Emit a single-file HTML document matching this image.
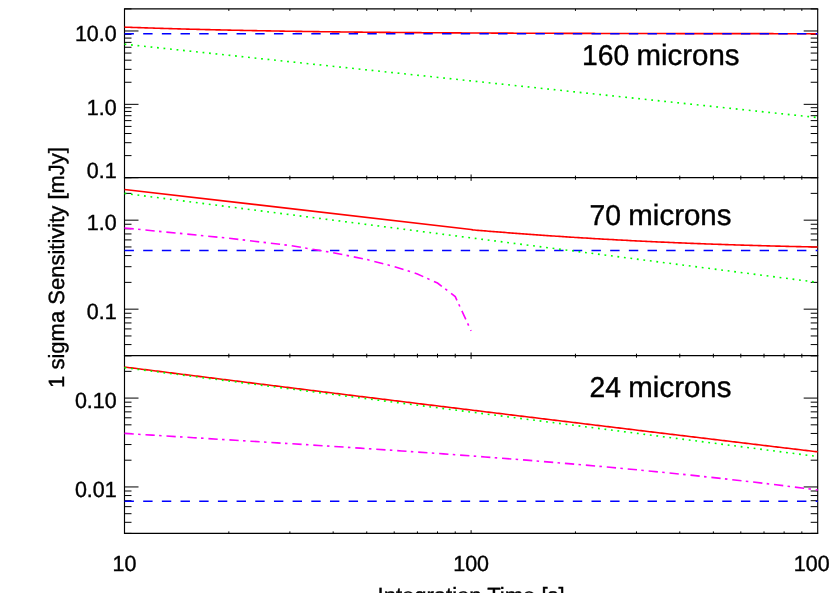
<!DOCTYPE html>
<html><head><meta charset="utf-8"><title>Sensitivity</title>
<style>html,body{margin:0;padding:0;background:#fff;overflow:hidden}svg{display:block;will-change:transform}</style>
</head><body>
<svg width="830" height="593" viewBox="0 0 830 593">
<rect width="830" height="593" fill="#fff"/>
<line x1="124.50" y1="8.90" x2="124.50" y2="12.10" stroke="#000" stroke-width="1.00"/>
<line x1="228.84" y1="8.90" x2="228.84" y2="10.90" stroke="#000" stroke-width="1.00"/>
<line x1="289.87" y1="8.90" x2="289.87" y2="10.90" stroke="#000" stroke-width="1.00"/>
<line x1="333.17" y1="8.90" x2="333.17" y2="10.90" stroke="#000" stroke-width="1.00"/>
<line x1="366.76" y1="8.90" x2="366.76" y2="10.90" stroke="#000" stroke-width="1.00"/>
<line x1="394.21" y1="8.90" x2="394.21" y2="10.90" stroke="#000" stroke-width="1.00"/>
<line x1="417.41" y1="8.90" x2="417.41" y2="10.90" stroke="#000" stroke-width="1.00"/>
<line x1="437.51" y1="8.90" x2="437.51" y2="10.90" stroke="#000" stroke-width="1.00"/>
<line x1="455.24" y1="8.90" x2="455.24" y2="10.90" stroke="#000" stroke-width="1.00"/>
<line x1="471.10" y1="8.90" x2="471.10" y2="12.10" stroke="#000" stroke-width="1.00"/>
<line x1="575.44" y1="8.90" x2="575.44" y2="10.90" stroke="#000" stroke-width="1.00"/>
<line x1="636.47" y1="8.90" x2="636.47" y2="10.90" stroke="#000" stroke-width="1.00"/>
<line x1="679.77" y1="8.90" x2="679.77" y2="10.90" stroke="#000" stroke-width="1.00"/>
<line x1="713.36" y1="8.90" x2="713.36" y2="10.90" stroke="#000" stroke-width="1.00"/>
<line x1="740.81" y1="8.90" x2="740.81" y2="10.90" stroke="#000" stroke-width="1.00"/>
<line x1="764.01" y1="8.90" x2="764.01" y2="10.90" stroke="#000" stroke-width="1.00"/>
<line x1="784.11" y1="8.90" x2="784.11" y2="10.90" stroke="#000" stroke-width="1.00"/>
<line x1="801.84" y1="8.90" x2="801.84" y2="10.90" stroke="#000" stroke-width="1.00"/>
<line x1="124.50" y1="174.50" x2="124.50" y2="180.90" stroke="#000" stroke-width="1.00"/>
<line x1="228.84" y1="175.70" x2="228.84" y2="179.70" stroke="#000" stroke-width="1.00"/>
<line x1="289.87" y1="175.70" x2="289.87" y2="179.70" stroke="#000" stroke-width="1.00"/>
<line x1="333.17" y1="175.70" x2="333.17" y2="179.70" stroke="#000" stroke-width="1.00"/>
<line x1="366.76" y1="175.70" x2="366.76" y2="179.70" stroke="#000" stroke-width="1.00"/>
<line x1="394.21" y1="175.70" x2="394.21" y2="179.70" stroke="#000" stroke-width="1.00"/>
<line x1="417.41" y1="175.70" x2="417.41" y2="179.70" stroke="#000" stroke-width="1.00"/>
<line x1="437.51" y1="175.70" x2="437.51" y2="179.70" stroke="#000" stroke-width="1.00"/>
<line x1="455.24" y1="175.70" x2="455.24" y2="179.70" stroke="#000" stroke-width="1.00"/>
<line x1="471.10" y1="174.50" x2="471.10" y2="180.90" stroke="#000" stroke-width="1.00"/>
<line x1="575.44" y1="175.70" x2="575.44" y2="179.70" stroke="#000" stroke-width="1.00"/>
<line x1="636.47" y1="175.70" x2="636.47" y2="179.70" stroke="#000" stroke-width="1.00"/>
<line x1="679.77" y1="175.70" x2="679.77" y2="179.70" stroke="#000" stroke-width="1.00"/>
<line x1="713.36" y1="175.70" x2="713.36" y2="179.70" stroke="#000" stroke-width="1.00"/>
<line x1="740.81" y1="175.70" x2="740.81" y2="179.70" stroke="#000" stroke-width="1.00"/>
<line x1="764.01" y1="175.70" x2="764.01" y2="179.70" stroke="#000" stroke-width="1.00"/>
<line x1="784.11" y1="175.70" x2="784.11" y2="179.70" stroke="#000" stroke-width="1.00"/>
<line x1="801.84" y1="175.70" x2="801.84" y2="179.70" stroke="#000" stroke-width="1.00"/>
<line x1="124.50" y1="352.50" x2="124.50" y2="358.90" stroke="#000" stroke-width="1.00"/>
<line x1="228.84" y1="353.70" x2="228.84" y2="357.70" stroke="#000" stroke-width="1.00"/>
<line x1="289.87" y1="353.70" x2="289.87" y2="357.70" stroke="#000" stroke-width="1.00"/>
<line x1="333.17" y1="353.70" x2="333.17" y2="357.70" stroke="#000" stroke-width="1.00"/>
<line x1="366.76" y1="353.70" x2="366.76" y2="357.70" stroke="#000" stroke-width="1.00"/>
<line x1="394.21" y1="353.70" x2="394.21" y2="357.70" stroke="#000" stroke-width="1.00"/>
<line x1="417.41" y1="353.70" x2="417.41" y2="357.70" stroke="#000" stroke-width="1.00"/>
<line x1="437.51" y1="353.70" x2="437.51" y2="357.70" stroke="#000" stroke-width="1.00"/>
<line x1="455.24" y1="353.70" x2="455.24" y2="357.70" stroke="#000" stroke-width="1.00"/>
<line x1="471.10" y1="352.50" x2="471.10" y2="358.90" stroke="#000" stroke-width="1.00"/>
<line x1="575.44" y1="353.70" x2="575.44" y2="357.70" stroke="#000" stroke-width="1.00"/>
<line x1="636.47" y1="353.70" x2="636.47" y2="357.70" stroke="#000" stroke-width="1.00"/>
<line x1="679.77" y1="353.70" x2="679.77" y2="357.70" stroke="#000" stroke-width="1.00"/>
<line x1="713.36" y1="353.70" x2="713.36" y2="357.70" stroke="#000" stroke-width="1.00"/>
<line x1="740.81" y1="353.70" x2="740.81" y2="357.70" stroke="#000" stroke-width="1.00"/>
<line x1="764.01" y1="353.70" x2="764.01" y2="357.70" stroke="#000" stroke-width="1.00"/>
<line x1="784.11" y1="353.70" x2="784.11" y2="357.70" stroke="#000" stroke-width="1.00"/>
<line x1="801.84" y1="353.70" x2="801.84" y2="357.70" stroke="#000" stroke-width="1.00"/>
<line x1="124.50" y1="530.20" x2="124.50" y2="533.40" stroke="#000" stroke-width="1.00"/>
<line x1="228.84" y1="531.40" x2="228.84" y2="533.40" stroke="#000" stroke-width="1.00"/>
<line x1="289.87" y1="531.40" x2="289.87" y2="533.40" stroke="#000" stroke-width="1.00"/>
<line x1="333.17" y1="531.40" x2="333.17" y2="533.40" stroke="#000" stroke-width="1.00"/>
<line x1="366.76" y1="531.40" x2="366.76" y2="533.40" stroke="#000" stroke-width="1.00"/>
<line x1="394.21" y1="531.40" x2="394.21" y2="533.40" stroke="#000" stroke-width="1.00"/>
<line x1="417.41" y1="531.40" x2="417.41" y2="533.40" stroke="#000" stroke-width="1.00"/>
<line x1="437.51" y1="531.40" x2="437.51" y2="533.40" stroke="#000" stroke-width="1.00"/>
<line x1="455.24" y1="531.40" x2="455.24" y2="533.40" stroke="#000" stroke-width="1.00"/>
<line x1="471.10" y1="530.20" x2="471.10" y2="533.40" stroke="#000" stroke-width="1.00"/>
<line x1="575.44" y1="531.40" x2="575.44" y2="533.40" stroke="#000" stroke-width="1.00"/>
<line x1="636.47" y1="531.40" x2="636.47" y2="533.40" stroke="#000" stroke-width="1.00"/>
<line x1="679.77" y1="531.40" x2="679.77" y2="533.40" stroke="#000" stroke-width="1.00"/>
<line x1="713.36" y1="531.40" x2="713.36" y2="533.40" stroke="#000" stroke-width="1.00"/>
<line x1="740.81" y1="531.40" x2="740.81" y2="533.40" stroke="#000" stroke-width="1.00"/>
<line x1="764.01" y1="531.40" x2="764.01" y2="533.40" stroke="#000" stroke-width="1.00"/>
<line x1="784.11" y1="531.40" x2="784.11" y2="533.40" stroke="#000" stroke-width="1.00"/>
<line x1="801.84" y1="531.40" x2="801.84" y2="533.40" stroke="#000" stroke-width="1.00"/>
<line x1="124.50" y1="177.70" x2="138.50" y2="177.70" stroke="#000" stroke-width="1.00"/>
<line x1="803.70" y1="177.70" x2="817.70" y2="177.70" stroke="#000" stroke-width="1.00"/>
<line x1="124.50" y1="155.62" x2="131.50" y2="155.62" stroke="#000" stroke-width="1.00"/>
<line x1="810.70" y1="155.62" x2="817.70" y2="155.62" stroke="#000" stroke-width="1.00"/>
<line x1="124.50" y1="142.70" x2="131.50" y2="142.70" stroke="#000" stroke-width="1.00"/>
<line x1="810.70" y1="142.70" x2="817.70" y2="142.70" stroke="#000" stroke-width="1.00"/>
<line x1="124.50" y1="133.53" x2="131.50" y2="133.53" stroke="#000" stroke-width="1.00"/>
<line x1="810.70" y1="133.53" x2="817.70" y2="133.53" stroke="#000" stroke-width="1.00"/>
<line x1="124.50" y1="126.42" x2="131.50" y2="126.42" stroke="#000" stroke-width="1.00"/>
<line x1="810.70" y1="126.42" x2="817.70" y2="126.42" stroke="#000" stroke-width="1.00"/>
<line x1="124.50" y1="120.62" x2="131.50" y2="120.62" stroke="#000" stroke-width="1.00"/>
<line x1="810.70" y1="120.62" x2="817.70" y2="120.62" stroke="#000" stroke-width="1.00"/>
<line x1="124.50" y1="115.70" x2="131.50" y2="115.70" stroke="#000" stroke-width="1.00"/>
<line x1="810.70" y1="115.70" x2="817.70" y2="115.70" stroke="#000" stroke-width="1.00"/>
<line x1="124.50" y1="111.45" x2="131.50" y2="111.45" stroke="#000" stroke-width="1.00"/>
<line x1="810.70" y1="111.45" x2="817.70" y2="111.45" stroke="#000" stroke-width="1.00"/>
<line x1="124.50" y1="107.70" x2="131.50" y2="107.70" stroke="#000" stroke-width="1.00"/>
<line x1="810.70" y1="107.70" x2="817.70" y2="107.70" stroke="#000" stroke-width="1.00"/>
<line x1="124.50" y1="104.34" x2="138.50" y2="104.34" stroke="#000" stroke-width="1.00"/>
<line x1="803.70" y1="104.34" x2="817.70" y2="104.34" stroke="#000" stroke-width="1.00"/>
<line x1="124.50" y1="82.26" x2="131.50" y2="82.26" stroke="#000" stroke-width="1.00"/>
<line x1="810.70" y1="82.26" x2="817.70" y2="82.26" stroke="#000" stroke-width="1.00"/>
<line x1="124.50" y1="69.34" x2="131.50" y2="69.34" stroke="#000" stroke-width="1.00"/>
<line x1="810.70" y1="69.34" x2="817.70" y2="69.34" stroke="#000" stroke-width="1.00"/>
<line x1="124.50" y1="60.18" x2="131.50" y2="60.18" stroke="#000" stroke-width="1.00"/>
<line x1="810.70" y1="60.18" x2="817.70" y2="60.18" stroke="#000" stroke-width="1.00"/>
<line x1="124.50" y1="53.07" x2="131.50" y2="53.07" stroke="#000" stroke-width="1.00"/>
<line x1="810.70" y1="53.07" x2="817.70" y2="53.07" stroke="#000" stroke-width="1.00"/>
<line x1="124.50" y1="47.26" x2="131.50" y2="47.26" stroke="#000" stroke-width="1.00"/>
<line x1="810.70" y1="47.26" x2="817.70" y2="47.26" stroke="#000" stroke-width="1.00"/>
<line x1="124.50" y1="42.35" x2="131.50" y2="42.35" stroke="#000" stroke-width="1.00"/>
<line x1="810.70" y1="42.35" x2="817.70" y2="42.35" stroke="#000" stroke-width="1.00"/>
<line x1="124.50" y1="38.09" x2="131.50" y2="38.09" stroke="#000" stroke-width="1.00"/>
<line x1="810.70" y1="38.09" x2="817.70" y2="38.09" stroke="#000" stroke-width="1.00"/>
<line x1="124.50" y1="34.34" x2="131.50" y2="34.34" stroke="#000" stroke-width="1.00"/>
<line x1="810.70" y1="34.34" x2="817.70" y2="34.34" stroke="#000" stroke-width="1.00"/>
<line x1="124.50" y1="30.98" x2="138.50" y2="30.98" stroke="#000" stroke-width="1.00"/>
<line x1="803.70" y1="30.98" x2="817.70" y2="30.98" stroke="#000" stroke-width="1.00"/>
<line x1="124.50" y1="8.90" x2="131.50" y2="8.90" stroke="#000" stroke-width="1.00"/>
<line x1="810.70" y1="8.90" x2="817.70" y2="8.90" stroke="#000" stroke-width="1.00"/>
<line x1="124.50" y1="355.70" x2="131.50" y2="355.70" stroke="#000" stroke-width="1.00"/>
<line x1="810.70" y1="355.70" x2="817.70" y2="355.70" stroke="#000" stroke-width="1.00"/>
<line x1="124.50" y1="344.58" x2="131.50" y2="344.58" stroke="#000" stroke-width="1.00"/>
<line x1="810.70" y1="344.58" x2="817.70" y2="344.58" stroke="#000" stroke-width="1.00"/>
<line x1="124.50" y1="335.96" x2="131.50" y2="335.96" stroke="#000" stroke-width="1.00"/>
<line x1="810.70" y1="335.96" x2="817.70" y2="335.96" stroke="#000" stroke-width="1.00"/>
<line x1="124.50" y1="328.91" x2="131.50" y2="328.91" stroke="#000" stroke-width="1.00"/>
<line x1="810.70" y1="328.91" x2="817.70" y2="328.91" stroke="#000" stroke-width="1.00"/>
<line x1="124.50" y1="322.95" x2="131.50" y2="322.95" stroke="#000" stroke-width="1.00"/>
<line x1="810.70" y1="322.95" x2="817.70" y2="322.95" stroke="#000" stroke-width="1.00"/>
<line x1="124.50" y1="317.79" x2="131.50" y2="317.79" stroke="#000" stroke-width="1.00"/>
<line x1="810.70" y1="317.79" x2="817.70" y2="317.79" stroke="#000" stroke-width="1.00"/>
<line x1="124.50" y1="313.24" x2="131.50" y2="313.24" stroke="#000" stroke-width="1.00"/>
<line x1="810.70" y1="313.24" x2="817.70" y2="313.24" stroke="#000" stroke-width="1.00"/>
<line x1="124.50" y1="309.16" x2="138.50" y2="309.16" stroke="#000" stroke-width="1.00"/>
<line x1="803.70" y1="309.16" x2="817.70" y2="309.16" stroke="#000" stroke-width="1.00"/>
<line x1="124.50" y1="282.37" x2="131.50" y2="282.37" stroke="#000" stroke-width="1.00"/>
<line x1="810.70" y1="282.37" x2="817.70" y2="282.37" stroke="#000" stroke-width="1.00"/>
<line x1="124.50" y1="266.70" x2="131.50" y2="266.70" stroke="#000" stroke-width="1.00"/>
<line x1="810.70" y1="266.70" x2="817.70" y2="266.70" stroke="#000" stroke-width="1.00"/>
<line x1="124.50" y1="255.58" x2="131.50" y2="255.58" stroke="#000" stroke-width="1.00"/>
<line x1="810.70" y1="255.58" x2="817.70" y2="255.58" stroke="#000" stroke-width="1.00"/>
<line x1="124.50" y1="246.96" x2="131.50" y2="246.96" stroke="#000" stroke-width="1.00"/>
<line x1="810.70" y1="246.96" x2="817.70" y2="246.96" stroke="#000" stroke-width="1.00"/>
<line x1="124.50" y1="239.91" x2="131.50" y2="239.91" stroke="#000" stroke-width="1.00"/>
<line x1="810.70" y1="239.91" x2="817.70" y2="239.91" stroke="#000" stroke-width="1.00"/>
<line x1="124.50" y1="233.95" x2="131.50" y2="233.95" stroke="#000" stroke-width="1.00"/>
<line x1="810.70" y1="233.95" x2="817.70" y2="233.95" stroke="#000" stroke-width="1.00"/>
<line x1="124.50" y1="228.79" x2="131.50" y2="228.79" stroke="#000" stroke-width="1.00"/>
<line x1="810.70" y1="228.79" x2="817.70" y2="228.79" stroke="#000" stroke-width="1.00"/>
<line x1="124.50" y1="224.24" x2="131.50" y2="224.24" stroke="#000" stroke-width="1.00"/>
<line x1="810.70" y1="224.24" x2="817.70" y2="224.24" stroke="#000" stroke-width="1.00"/>
<line x1="124.50" y1="220.16" x2="138.50" y2="220.16" stroke="#000" stroke-width="1.00"/>
<line x1="803.70" y1="220.16" x2="817.70" y2="220.16" stroke="#000" stroke-width="1.00"/>
<line x1="124.50" y1="193.37" x2="131.50" y2="193.37" stroke="#000" stroke-width="1.00"/>
<line x1="810.70" y1="193.37" x2="817.70" y2="193.37" stroke="#000" stroke-width="1.00"/>
<line x1="124.50" y1="177.70" x2="131.50" y2="177.70" stroke="#000" stroke-width="1.00"/>
<line x1="810.70" y1="177.70" x2="817.70" y2="177.70" stroke="#000" stroke-width="1.00"/>
<line x1="124.50" y1="533.40" x2="131.50" y2="533.40" stroke="#000" stroke-width="1.00"/>
<line x1="810.70" y1="533.40" x2="817.70" y2="533.40" stroke="#000" stroke-width="1.00"/>
<line x1="124.50" y1="522.30" x2="131.50" y2="522.30" stroke="#000" stroke-width="1.00"/>
<line x1="810.70" y1="522.30" x2="817.70" y2="522.30" stroke="#000" stroke-width="1.00"/>
<line x1="124.50" y1="513.69" x2="131.50" y2="513.69" stroke="#000" stroke-width="1.00"/>
<line x1="810.70" y1="513.69" x2="817.70" y2="513.69" stroke="#000" stroke-width="1.00"/>
<line x1="124.50" y1="506.65" x2="131.50" y2="506.65" stroke="#000" stroke-width="1.00"/>
<line x1="810.70" y1="506.65" x2="817.70" y2="506.65" stroke="#000" stroke-width="1.00"/>
<line x1="124.50" y1="500.71" x2="131.50" y2="500.71" stroke="#000" stroke-width="1.00"/>
<line x1="810.70" y1="500.71" x2="817.70" y2="500.71" stroke="#000" stroke-width="1.00"/>
<line x1="124.50" y1="495.55" x2="131.50" y2="495.55" stroke="#000" stroke-width="1.00"/>
<line x1="810.70" y1="495.55" x2="817.70" y2="495.55" stroke="#000" stroke-width="1.00"/>
<line x1="124.50" y1="491.01" x2="131.50" y2="491.01" stroke="#000" stroke-width="1.00"/>
<line x1="810.70" y1="491.01" x2="817.70" y2="491.01" stroke="#000" stroke-width="1.00"/>
<line x1="124.50" y1="486.94" x2="138.50" y2="486.94" stroke="#000" stroke-width="1.00"/>
<line x1="803.70" y1="486.94" x2="817.70" y2="486.94" stroke="#000" stroke-width="1.00"/>
<line x1="124.50" y1="460.20" x2="131.50" y2="460.20" stroke="#000" stroke-width="1.00"/>
<line x1="810.70" y1="460.20" x2="817.70" y2="460.20" stroke="#000" stroke-width="1.00"/>
<line x1="124.50" y1="444.55" x2="131.50" y2="444.55" stroke="#000" stroke-width="1.00"/>
<line x1="810.70" y1="444.55" x2="817.70" y2="444.55" stroke="#000" stroke-width="1.00"/>
<line x1="124.50" y1="433.45" x2="131.50" y2="433.45" stroke="#000" stroke-width="1.00"/>
<line x1="810.70" y1="433.45" x2="817.70" y2="433.45" stroke="#000" stroke-width="1.00"/>
<line x1="124.50" y1="424.84" x2="131.50" y2="424.84" stroke="#000" stroke-width="1.00"/>
<line x1="810.70" y1="424.84" x2="817.70" y2="424.84" stroke="#000" stroke-width="1.00"/>
<line x1="124.50" y1="417.80" x2="131.50" y2="417.80" stroke="#000" stroke-width="1.00"/>
<line x1="810.70" y1="417.80" x2="817.70" y2="417.80" stroke="#000" stroke-width="1.00"/>
<line x1="124.50" y1="411.86" x2="131.50" y2="411.86" stroke="#000" stroke-width="1.00"/>
<line x1="810.70" y1="411.86" x2="817.70" y2="411.86" stroke="#000" stroke-width="1.00"/>
<line x1="124.50" y1="406.70" x2="131.50" y2="406.70" stroke="#000" stroke-width="1.00"/>
<line x1="810.70" y1="406.70" x2="817.70" y2="406.70" stroke="#000" stroke-width="1.00"/>
<line x1="124.50" y1="402.16" x2="131.50" y2="402.16" stroke="#000" stroke-width="1.00"/>
<line x1="810.70" y1="402.16" x2="817.70" y2="402.16" stroke="#000" stroke-width="1.00"/>
<line x1="124.50" y1="398.09" x2="138.50" y2="398.09" stroke="#000" stroke-width="1.00"/>
<line x1="803.70" y1="398.09" x2="817.70" y2="398.09" stroke="#000" stroke-width="1.00"/>
<line x1="124.50" y1="371.35" x2="131.50" y2="371.35" stroke="#000" stroke-width="1.00"/>
<line x1="810.70" y1="371.35" x2="817.70" y2="371.35" stroke="#000" stroke-width="1.00"/>
<line x1="124.50" y1="355.70" x2="131.50" y2="355.70" stroke="#000" stroke-width="1.00"/>
<line x1="810.70" y1="355.70" x2="817.70" y2="355.70" stroke="#000" stroke-width="1.00"/>
<line x1="123.95" y1="8.90" x2="818.25" y2="8.90" stroke="#000" stroke-width="1.25"/>
<line x1="123.95" y1="177.70" x2="818.25" y2="177.70" stroke="#000" stroke-width="1.25"/>
<line x1="123.95" y1="355.70" x2="818.25" y2="355.70" stroke="#000" stroke-width="1.25"/>
<line x1="123.95" y1="533.40" x2="818.25" y2="533.40" stroke="#000" stroke-width="1.25"/>
<line x1="124.50" y1="8.90" x2="124.50" y2="533.40" stroke="#000" stroke-width="1.15"/>
<line x1="817.70" y1="8.90" x2="817.70" y2="533.40" stroke="#000" stroke-width="1.15"/>
<path d="M124.50 27.12 L126.23 27.18 L127.97 27.25 L129.70 27.31 L131.43 27.37 L133.16 27.43 L134.90 27.49 L136.63 27.55 L138.36 27.61 L140.10 27.67 L141.83 27.73 L143.56 27.78 L145.30 27.84 L147.03 27.90 L148.76 27.95 L150.49 28.01 L152.23 28.07 L153.96 28.12 L155.69 28.18 L157.43 28.23 L159.16 28.28 L160.89 28.34 L162.63 28.39 L164.36 28.44 L166.09 28.49 L167.82 28.55 L169.56 28.60 L171.29 28.65 L173.02 28.70 L174.76 28.75 L176.49 28.80 L178.22 28.85 L179.96 28.90 L181.69 28.94 L183.42 28.99 L185.16 29.04 L186.89 29.09 L188.62 29.13 L190.35 29.18 L192.09 29.22 L193.82 29.27 L195.55 29.32 L197.29 29.36 L199.02 29.40 L200.75 29.45 L202.49 29.49 L204.22 29.53 L205.95 29.58 L207.68 29.62 L209.42 29.66 L211.15 29.70 L212.88 29.74 L214.62 29.79 L216.35 29.83 L218.08 29.87 L219.81 29.91 L221.55 29.95 L223.28 29.98 L225.01 30.02 L226.75 30.06 L228.48 30.10 L230.21 30.14 L231.95 30.18 L233.68 30.21 L235.41 30.25 L237.14 30.29 L238.88 30.32 L240.61 30.36 L242.34 30.39 L244.08 30.43 L245.81 30.46 L247.54 30.50 L249.28 30.53 L251.01 30.56 L252.74 30.60 L254.48 30.63 L256.21 30.66 L257.94 30.70 L259.67 30.73 L261.41 30.76 L263.14 30.79 L264.87 30.82 L266.61 30.85 L268.34 30.88 L270.07 30.91 L271.81 30.94 L273.54 30.97 L275.27 31.00 L277.00 31.03 L278.74 31.06 L280.47 31.09 L282.20 31.12 L283.94 31.15 L285.67 31.18 L287.40 31.20 L289.14 31.23 L290.87 31.26 L292.60 31.28 L294.33 31.31 L296.07 31.34 L297.80 31.36 L299.53 31.39 L301.27 31.41 L303.00 31.44 L304.73 31.46 L306.46 31.49 L308.20 31.51 L309.93 31.54 L311.66 31.56 L313.40 31.59 L315.13 31.61 L316.86 31.63 L318.60 31.66 L320.33 31.68 L322.06 31.70 L323.79 31.72 L325.53 31.75 L327.26 31.77 L328.99 31.79 L330.73 31.81 L332.46 31.83 L334.19 31.85 L335.93 31.87 L337.66 31.89 L339.39 31.91 L341.12 31.94 L342.86 31.96 L344.59 31.97 L346.32 31.99 L348.06 32.01 L349.79 32.03 L351.52 32.05 L353.26 32.07 L354.99 32.09 L356.72 32.11 L358.46 32.13 L360.19 32.14 L361.92 32.16 L363.65 32.18 L365.39 32.20 L367.12 32.21 L368.85 32.23 L370.59 32.25 L372.32 32.27 L374.05 32.28 L375.79 32.30 L377.52 32.31 L379.25 32.33 L380.98 32.35 L382.72 32.36 L384.45 32.38 L386.18 32.39 L387.92 32.41 L389.65 32.42 L391.38 32.44 L393.12 32.45 L394.85 32.47 L396.58 32.48 L398.31 32.50 L400.05 32.51 L401.78 32.53 L403.51 32.54 L405.25 32.55 L406.98 32.57 L408.71 32.58 L410.44 32.59 L412.18 32.61 L413.91 32.62 L415.64 32.63 L417.38 32.64 L419.11 32.66 L420.84 32.67 L422.58 32.68 L424.31 32.69 L426.04 32.71 L427.78 32.72 L429.51 32.73 L431.24 32.74 L432.97 32.75 L434.71 32.77 L436.44 32.78 L438.17 32.79 L439.91 32.80 L441.64 32.81 L443.37 32.82 L445.11 32.83 L446.84 32.84 L448.57 32.85 L450.30 32.86 L452.04 32.87 L453.77 32.88 L455.50 32.89 L457.24 32.90 L458.97 32.91 L460.70 32.92 L462.44 32.93 L464.17 32.94 L465.90 32.95 L467.63 32.96 L469.37 32.97 L471.10 32.98 L472.83 32.99 L474.57 33.00 L476.30 33.01 L478.03 33.01 L479.76 33.02 L481.50 33.03 L483.23 33.04 L484.96 33.05 L486.70 33.06 L488.43 33.06 L490.16 33.07 L491.90 33.08 L493.63 33.09 L495.36 33.10 L497.10 33.10 L498.83 33.11 L500.56 33.12 L502.29 33.13 L504.03 33.13 L505.76 33.14 L507.49 33.15 L509.23 33.16 L510.96 33.16 L512.69 33.17 L514.42 33.18 L516.16 33.18 L517.89 33.19 L519.62 33.20 L521.36 33.20 L523.09 33.21 L524.82 33.22 L526.56 33.22 L528.29 33.23 L530.02 33.24 L531.75 33.24 L533.49 33.25 L535.22 33.25 L536.95 33.26 L538.69 33.27 L540.42 33.27 L542.15 33.28 L543.89 33.28 L545.62 33.29 L547.35 33.29 L549.09 33.30 L550.82 33.31 L552.55 33.31 L554.28 33.32 L556.02 33.32 L557.75 33.33 L559.48 33.33 L561.22 33.34 L562.95 33.34 L564.68 33.35 L566.41 33.35 L568.15 33.36 L569.88 33.36 L571.61 33.37 L573.35 33.37 L575.08 33.38 L576.81 33.38 L578.55 33.39 L580.28 33.39 L582.01 33.39 L583.75 33.40 L585.48 33.40 L587.21 33.41 L588.94 33.41 L590.68 33.42 L592.41 33.42 L594.14 33.42 L595.88 33.43 L597.61 33.43 L599.34 33.44 L601.08 33.44 L602.81 33.44 L604.54 33.45 L606.27 33.45 L608.01 33.46 L609.74 33.46 L611.47 33.46 L613.21 33.47 L614.94 33.47 L616.67 33.47 L618.40 33.48 L620.14 33.48 L621.87 33.48 L623.60 33.49 L625.34 33.49 L627.07 33.49 L628.80 33.50 L630.54 33.50 L632.27 33.50 L634.00 33.51 L635.74 33.51 L637.47 33.51 L639.20 33.52 L640.93 33.52 L642.67 33.52 L644.40 33.53 L646.13 33.53 L647.87 33.53 L649.60 33.53 L651.33 33.54 L653.07 33.54 L654.80 33.54 L656.53 33.55 L658.26 33.55 L660.00 33.55 L661.73 33.55 L663.46 33.56 L665.20 33.56 L666.93 33.56 L668.66 33.56 L670.40 33.57 L672.13 33.57 L673.86 33.57 L675.59 33.57 L677.33 33.58 L679.06 33.58 L680.79 33.58 L682.53 33.58 L684.26 33.59 L685.99 33.59 L687.73 33.59 L689.46 33.59 L691.19 33.59 L692.92 33.60 L694.66 33.60 L696.39 33.60 L698.12 33.60 L699.86 33.61 L701.59 33.61 L703.32 33.61 L705.05 33.61 L706.79 33.61 L708.52 33.62 L710.25 33.62 L711.99 33.62 L713.72 33.62 L715.45 33.62 L717.19 33.62 L718.92 33.63 L720.65 33.63 L722.39 33.63 L724.12 33.63 L725.85 33.63 L727.58 33.64 L729.32 33.64 L731.05 33.64 L732.78 33.64 L734.52 33.64 L736.25 33.64 L737.98 33.65 L739.72 33.65 L741.45 33.65 L743.18 33.65 L744.91 33.65 L746.65 33.65 L748.38 33.65 L750.11 33.66 L751.85 33.66 L753.58 33.66 L755.31 33.66 L757.05 33.66 L758.78 33.66 L760.51 33.66 L762.24 33.67 L763.98 33.67 L765.71 33.67 L767.44 33.67 L769.18 33.67 L770.91 33.67 L772.64 33.67 L774.38 33.68 L776.11 33.68 L777.84 33.68 L779.57 33.68 L781.31 33.68 L783.04 33.68 L784.77 33.68 L786.51 33.68 L788.24 33.69 L789.97 33.69 L791.70 33.69 L793.44 33.69 L795.17 33.69 L796.90 33.69 L798.64 33.69 L800.37 33.69 L802.10 33.69 L803.84 33.69 L805.57 33.70 L807.30 33.70 L809.04 33.70 L810.77 33.70 L812.50 33.70 L814.23 33.70 L815.97 33.70 L817.70 33.70" fill="none" stroke="#ff0000" stroke-width="1.60"/>
<path d="M124.50 33.79 L817.70 33.79" fill="none" stroke="#0000ff" stroke-width="1.60" stroke-dasharray="9.4 9.28"/>
<path d="M124.50 44.22 L817.70 117.58" fill="none" stroke="#00ff00" stroke-width="1.60" stroke-dasharray="1.8 4.739"/>
<path d="M124.50 189.45 L471.10 229.50 L472.83 229.90 L474.57 230.04 L476.30 230.19 L478.03 230.33 L479.76 230.48 L481.50 230.62 L483.23 230.76 L484.96 230.90 L486.70 231.05 L488.43 231.19 L490.16 231.33 L491.90 231.47 L493.63 231.60 L495.36 231.74 L497.10 231.88 L498.83 232.02 L500.56 232.15 L502.29 232.29 L504.03 232.42 L505.76 232.56 L507.49 232.69 L509.23 232.83 L510.96 232.96 L512.69 233.09 L514.42 233.22 L516.16 233.35 L517.89 233.48 L519.62 233.61 L521.36 233.74 L523.09 233.87 L524.82 234.00 L526.56 234.13 L528.29 234.25 L530.02 234.38 L531.75 234.50 L533.49 234.63 L535.22 234.75 L536.95 234.87 L538.69 235.00 L540.42 235.12 L542.15 235.24 L543.89 235.36 L545.62 235.48 L547.35 235.60 L549.09 235.72 L550.82 235.84 L552.55 235.96 L554.28 236.07 L556.02 236.19 L557.75 236.31 L559.48 236.42 L561.22 236.53 L562.95 236.65 L564.68 236.76 L566.41 236.87 L568.15 236.99 L569.88 237.10 L571.61 237.21 L573.35 237.32 L575.08 237.43 L576.81 237.54 L578.55 237.64 L580.28 237.75 L582.01 237.86 L583.75 237.96 L585.48 238.07 L587.21 238.17 L588.94 238.28 L590.68 238.38 L592.41 238.48 L594.14 238.59 L595.88 238.69 L597.61 238.79 L599.34 238.89 L601.08 238.99 L602.81 239.09 L604.54 239.19 L606.27 239.28 L608.01 239.38 L609.74 239.48 L611.47 239.57 L613.21 239.67 L614.94 239.76 L616.67 239.86 L618.40 239.95 L620.14 240.05 L621.87 240.14 L623.60 240.23 L625.34 240.32 L627.07 240.41 L628.80 240.50 L630.54 240.59 L632.27 240.68 L634.00 240.77 L635.74 240.85 L637.47 240.94 L639.20 241.03 L640.93 241.11 L642.67 241.20 L644.40 241.28 L646.13 241.36 L647.87 241.45 L649.60 241.53 L651.33 241.61 L653.07 241.69 L654.80 241.77 L656.53 241.85 L658.26 241.93 L660.00 242.01 L661.73 242.09 L663.46 242.17 L665.20 242.24 L666.93 242.32 L668.66 242.40 L670.40 242.47 L672.13 242.55 L673.86 242.62 L675.59 242.69 L677.33 242.77 L679.06 242.84 L680.79 242.91 L682.53 242.98 L684.26 243.05 L685.99 243.12 L687.73 243.19 L689.46 243.26 L691.19 243.33 L692.92 243.40 L694.66 243.47 L696.39 243.54 L698.12 243.60 L699.86 243.67 L701.59 243.73 L703.32 243.80 L705.05 243.86 L706.79 243.93 L708.52 243.99 L710.25 244.05 L711.99 244.11 L713.72 244.18 L715.45 244.24 L717.19 244.30 L718.92 244.36 L720.65 244.42 L722.39 244.48 L724.12 244.54 L725.85 244.59 L727.58 244.65 L729.32 244.71 L731.05 244.77 L732.78 244.82 L734.52 244.88 L736.25 244.93 L737.98 244.99 L739.72 245.04 L741.45 245.10 L743.18 245.15 L744.91 245.20 L746.65 245.26 L748.38 245.31 L750.11 245.36 L751.85 245.41 L753.58 245.46 L755.31 245.51 L757.05 245.56 L758.78 245.61 L760.51 245.66 L762.24 245.71 L763.98 245.76 L765.71 245.80 L767.44 245.85 L769.18 245.90 L770.91 245.94 L772.64 245.99 L774.38 246.04 L776.11 246.08 L777.84 246.13 L779.57 246.17 L781.31 246.21 L783.04 246.26 L784.77 246.30 L786.51 246.34 L788.24 246.38 L789.97 246.43 L791.70 246.47 L793.44 246.51 L795.17 246.55 L796.90 246.59 L798.64 246.63 L800.37 246.67 L802.10 246.71 L803.84 246.75 L805.57 246.79 L807.30 246.82 L809.04 246.86 L810.77 246.90 L812.50 246.94 L814.23 246.97 L815.97 247.01 L817.70 247.04" fill="none" stroke="#ff0000" stroke-width="1.60"/>
<path d="M124.50 250.43 L817.70 250.43" fill="none" stroke="#0000ff" stroke-width="1.60" stroke-dasharray="9.4 9.28"/>
<path d="M124.50 193.37 L817.70 282.37" fill="none" stroke="#00ff00" stroke-width="1.60" stroke-dasharray="1.8 4.739"/>
<path d="M124.50 228.00 L228.84 238.20 L289.87 245.50 L333.17 252.70 L366.76 259.50 L394.21 266.50 L417.41 274.00 L437.51 283.00 L455.24 296.60 L471.10 330.80" fill="none" stroke="#ff00ff" stroke-width="1.60" stroke-dasharray="9.3 4.35 2.5 4.87"/>
<path d="M124.50 367.02 L126.23 367.24 L127.97 367.46 L129.70 367.68 L131.43 367.89 L133.16 368.11 L134.90 368.33 L136.63 368.55 L138.36 368.77 L140.10 368.98 L141.83 369.20 L143.56 369.42 L145.30 369.64 L147.03 369.86 L148.76 370.07 L150.49 370.29 L152.23 370.51 L153.96 370.73 L155.69 370.95 L157.43 371.16 L159.16 371.38 L160.89 371.60 L162.63 371.82 L164.36 372.03 L166.09 372.25 L167.82 372.47 L169.56 372.69 L171.29 372.90 L173.02 373.12 L174.76 373.34 L176.49 373.56 L178.22 373.77 L179.96 373.99 L181.69 374.21 L183.42 374.43 L185.16 374.64 L186.89 374.86 L188.62 375.08 L190.35 375.30 L192.09 375.51 L193.82 375.73 L195.55 375.95 L197.29 376.16 L199.02 376.38 L200.75 376.60 L202.49 376.82 L204.22 377.03 L205.95 377.25 L207.68 377.47 L209.42 377.68 L211.15 377.90 L212.88 378.12 L214.62 378.33 L216.35 378.55 L218.08 378.77 L219.81 378.98 L221.55 379.20 L223.28 379.42 L225.01 379.63 L226.75 379.85 L228.48 380.07 L230.21 380.28 L231.95 380.50 L233.68 380.72 L235.41 380.93 L237.14 381.15 L238.88 381.37 L240.61 381.58 L242.34 381.80 L244.08 382.01 L245.81 382.23 L247.54 382.45 L249.28 382.66 L251.01 382.88 L252.74 383.09 L254.48 383.31 L256.21 383.53 L257.94 383.74 L259.67 383.96 L261.41 384.17 L263.14 384.39 L264.87 384.61 L266.61 384.82 L268.34 385.04 L270.07 385.25 L271.81 385.47 L273.54 385.68 L275.27 385.90 L277.00 386.12 L278.74 386.33 L280.47 386.55 L282.20 386.76 L283.94 386.98 L285.67 387.19 L287.40 387.41 L289.14 387.62 L290.87 387.84 L292.60 388.05 L294.33 388.27 L296.07 388.48 L297.80 388.70 L299.53 388.91 L301.27 389.13 L303.00 389.34 L304.73 389.56 L306.46 389.77 L308.20 389.99 L309.93 390.20 L311.66 390.42 L313.40 390.63 L315.13 390.85 L316.86 391.06 L318.60 391.28 L320.33 391.49 L322.06 391.71 L323.79 391.92 L325.53 392.14 L327.26 392.35 L328.99 392.56 L330.73 392.78 L332.46 392.99 L334.19 393.21 L335.93 393.42 L337.66 393.64 L339.39 393.85 L341.12 394.07 L342.86 394.28 L344.59 394.49 L346.32 394.71 L348.06 394.92 L349.79 395.14 L351.52 395.35 L353.26 395.56 L354.99 395.78 L356.72 395.99 L358.46 396.20 L360.19 396.42 L361.92 396.63 L363.65 396.85 L365.39 397.06 L367.12 397.27 L368.85 397.49 L370.59 397.70 L372.32 397.91 L374.05 398.13 L375.79 398.34 L377.52 398.55 L379.25 398.77 L380.98 398.98 L382.72 399.19 L384.45 399.41 L386.18 399.62 L387.92 399.83 L389.65 400.05 L391.38 400.26 L393.12 400.47 L394.85 400.69 L396.58 400.90 L398.31 401.11 L400.05 401.33 L401.78 401.54 L403.51 401.75 L405.25 401.96 L406.98 402.18 L408.71 402.39 L410.44 402.60 L412.18 402.81 L413.91 403.03 L415.64 403.24 L417.38 403.45 L419.11 403.67 L420.84 403.88 L422.58 404.09 L424.31 404.30 L426.04 404.51 L427.78 404.73 L429.51 404.94 L431.24 405.15 L432.97 405.36 L434.71 405.58 L436.44 405.79 L438.17 406.00 L439.91 406.21 L441.64 406.42 L443.37 406.64 L445.11 406.85 L446.84 407.06 L448.57 407.27 L450.30 407.48 L452.04 407.70 L453.77 407.91 L455.50 408.12 L457.24 408.33 L458.97 408.54 L460.70 408.76 L462.44 408.97 L464.17 409.18 L465.90 409.39 L467.63 409.60 L469.37 409.81 L471.10 410.02 L472.83 410.24 L474.57 410.45 L476.30 410.66 L478.03 410.87 L479.76 411.08 L481.50 411.29 L483.23 411.50 L484.96 411.72 L486.70 411.93 L488.43 412.14 L490.16 412.35 L491.90 412.56 L493.63 412.77 L495.36 412.98 L497.10 413.19 L498.83 413.40 L500.56 413.62 L502.29 413.83 L504.03 414.04 L505.76 414.25 L507.49 414.46 L509.23 414.67 L510.96 414.88 L512.69 415.09 L514.42 415.30 L516.16 415.51 L517.89 415.72 L519.62 415.93 L521.36 416.15 L523.09 416.36 L524.82 416.57 L526.56 416.78 L528.29 416.99 L530.02 417.20 L531.75 417.41 L533.49 417.62 L535.22 417.83 L536.95 418.04 L538.69 418.25 L540.42 418.46 L542.15 418.67 L543.89 418.88 L545.62 419.09 L547.35 419.30 L549.09 419.51 L550.82 419.72 L552.55 419.93 L554.28 420.14 L556.02 420.35 L557.75 420.56 L559.48 420.77 L561.22 420.98 L562.95 421.19 L564.68 421.40 L566.41 421.61 L568.15 421.82 L569.88 422.03 L571.61 422.24 L573.35 422.45 L575.08 422.66 L576.81 422.87 L578.55 423.08 L580.28 423.29 L582.01 423.50 L583.75 423.71 L585.48 423.92 L587.21 424.13 L588.94 424.34 L590.68 424.55 L592.41 424.76 L594.14 424.97 L595.88 425.18 L597.61 425.39 L599.34 425.60 L601.08 425.81 L602.81 426.02 L604.54 426.23 L606.27 426.44 L608.01 426.65 L609.74 426.86 L611.47 427.07 L613.21 427.28 L614.94 427.49 L616.67 427.70 L618.40 427.91 L620.14 428.12 L621.87 428.32 L623.60 428.53 L625.34 428.74 L627.07 428.95 L628.80 429.16 L630.54 429.37 L632.27 429.58 L634.00 429.79 L635.74 430.00 L637.47 430.21 L639.20 430.42 L640.93 430.63 L642.67 430.84 L644.40 431.05 L646.13 431.26 L647.87 431.46 L649.60 431.67 L651.33 431.88 L653.07 432.09 L654.80 432.30 L656.53 432.51 L658.26 432.72 L660.00 432.93 L661.73 433.14 L663.46 433.35 L665.20 433.56 L666.93 433.76 L668.66 433.97 L670.40 434.18 L672.13 434.39 L673.86 434.60 L675.59 434.81 L677.33 435.02 L679.06 435.23 L680.79 435.44 L682.53 435.64 L684.26 435.85 L685.99 436.06 L687.73 436.27 L689.46 436.48 L691.19 436.69 L692.92 436.90 L694.66 437.11 L696.39 437.31 L698.12 437.52 L699.86 437.73 L701.59 437.94 L703.32 438.15 L705.05 438.36 L706.79 438.57 L708.52 438.77 L710.25 438.98 L711.99 439.19 L713.72 439.40 L715.45 439.61 L717.19 439.82 L718.92 440.02 L720.65 440.23 L722.39 440.44 L724.12 440.65 L725.85 440.86 L727.58 441.07 L729.32 441.27 L731.05 441.48 L732.78 441.69 L734.52 441.90 L736.25 442.11 L737.98 442.31 L739.72 442.52 L741.45 442.73 L743.18 442.94 L744.91 443.15 L746.65 443.35 L748.38 443.56 L750.11 443.77 L751.85 443.98 L753.58 444.19 L755.31 444.39 L757.05 444.60 L758.78 444.81 L760.51 445.02 L762.24 445.22 L763.98 445.43 L765.71 445.64 L767.44 445.85 L769.18 446.05 L770.91 446.26 L772.64 446.47 L774.38 446.67 L776.11 446.88 L777.84 447.09 L779.57 447.30 L781.31 447.50 L783.04 447.71 L784.77 447.92 L786.51 448.12 L788.24 448.33 L789.97 448.54 L791.70 448.74 L793.44 448.95 L795.17 449.16 L796.90 449.36 L798.64 449.57 L800.37 449.77 L802.10 449.98 L803.84 450.19 L805.57 450.39 L807.30 450.60 L809.04 450.80 L810.77 451.01 L812.50 451.22 L814.23 451.42 L815.97 451.63 L817.70 451.83" fill="none" stroke="#ff0000" stroke-width="1.60"/>
<path d="M124.50 501.26 L817.70 501.26" fill="none" stroke="#0000ff" stroke-width="1.60" stroke-dasharray="9.4 9.28"/>
<path d="M124.50 367.67 L817.70 456.52" fill="none" stroke="#00ff00" stroke-width="1.60" stroke-dasharray="1.8 4.739"/>
<path d="M124.50 433.42 L138.36 434.29 L152.23 435.15 L166.09 436.00 L179.96 436.86 L193.82 437.71 L207.68 438.57 L221.55 439.42 L235.41 440.27 L249.28 441.13 L263.14 441.99 L277.00 442.85 L290.87 443.72 L304.73 444.59 L318.60 445.47 L332.46 446.36 L346.32 447.25 L360.19 448.16 L374.05 449.08 L387.92 450.01 L401.78 450.95 L415.64 451.91 L429.51 452.88 L443.37 453.87 L457.24 454.87 L471.10 455.89 L484.96 456.93 L498.83 457.99 L512.69 459.07 L526.56 460.17 L540.42 461.29 L554.28 462.44 L568.15 463.61 L582.01 464.81 L595.88 466.03 L609.74 467.28 L623.60 468.56 L637.47 469.87 L651.33 471.21 L665.20 472.57 L679.06 473.98 L692.92 475.41 L706.79 476.88 L720.65 478.38 L734.52 479.93 L748.38 481.50 L762.24 483.12 L776.11 484.77 L789.97 486.47 L803.84 488.20 L817.70 489.98" fill="none" stroke="#ff00ff" stroke-width="1.60" stroke-dasharray="9.3 4.35 2.5 4.87"/>
<g font-family="'Liberation Sans', sans-serif" font-size="22px" fill="#000" stroke="#000" stroke-width="0.4" text-rendering="geometricPrecision">
<text transform="translate(116.70 41.18) scale(0.9850 1.0000)" text-anchor="end" font-size="21.8px">10.0</text>
<text transform="translate(116.70 114.54) scale(0.9850 1.0000)" text-anchor="end" font-size="21.8px">1.0</text>
<text transform="translate(116.70 177.90) scale(0.9850 1.0000)" text-anchor="end" font-size="21.8px">0.1</text>
<text transform="translate(116.70 230.36) scale(0.9850 1.0000)" text-anchor="end" font-size="21.8px">1.0</text>
<text transform="translate(116.70 319.36) scale(0.9850 1.0000)" text-anchor="end" font-size="21.8px">0.1</text>
<text transform="translate(116.70 408.29) scale(0.9850 1.0000)" text-anchor="end" font-size="21.8px">0.10</text>
<text transform="translate(116.70 497.14) scale(0.9850 1.0000)" text-anchor="end" font-size="21.8px">0.01</text>
<text transform="translate(124.50 570.80) scale(0.9850 1.0000)" text-anchor="middle" font-size="21.8px">10</text>
<text transform="translate(471.10 570.80) scale(0.9850 1.0000)" text-anchor="middle" font-size="21.8px">100</text>
<text transform="translate(817.70 570.80) scale(0.9850 1.0000)" text-anchor="middle" font-size="21.8px">1000</text>
<text transform="translate(471.10 602.90) scale(1.0000 1.0000)" text-anchor="middle">Integration Time [s]</text>
<text transform="translate(63.9 387.9) rotate(-90)" x="0" y="0">1 sigma Sensitivity [mJy]</text>
<text transform="translate(629.15 65.20) scale(0.9850 1.0000)" text-anchor="end" font-size="28.7px">160</text>
<text transform="translate(636.45 65.20) scale(1.0000 1.0000)" text-anchor="start" font-size="29.45px">microns</text>
<text transform="translate(621.05 225.10) scale(0.9850 1.0000)" text-anchor="end" font-size="28.7px">70</text>
<text transform="translate(628.35 225.10) scale(1.0000 1.0000)" text-anchor="start" font-size="29.45px">microns</text>
<text transform="translate(621.05 397.30) scale(0.9850 1.0000)" text-anchor="end" font-size="28.7px">24</text>
<text transform="translate(628.35 397.30) scale(1.0000 1.0000)" text-anchor="start" font-size="29.45px">microns</text>
</g>
</svg>
</body></html>
